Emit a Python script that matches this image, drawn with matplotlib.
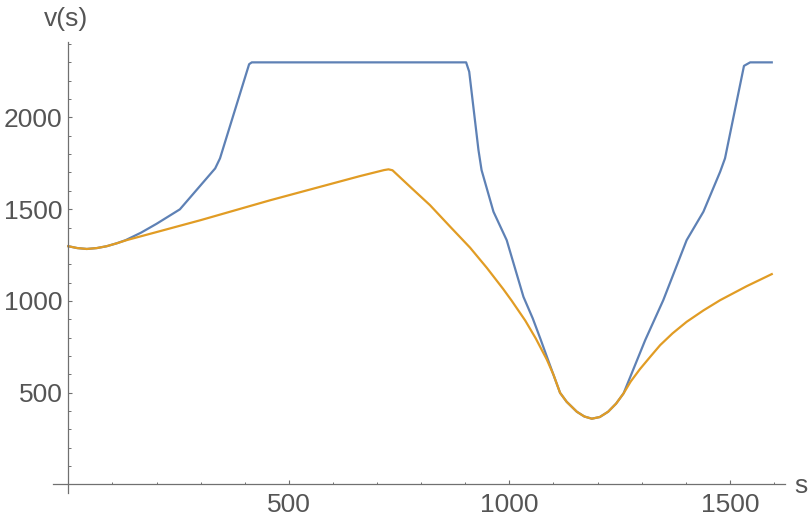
import matplotlib
matplotlib.use("Agg")
import matplotlib.pyplot as plt

# Blue series (upper envelope)
blue_s = [0, 20, 42, 65, 87, 110, 130, 165, 200, 253, 333, 344, 410, 416, 902, 909, 930, 937,
          964, 994, 1032, 1053, 1070, 1092, 1115, 1130, 1153, 1170, 1187, 1205, 1224, 1242,
          1259, 1308, 1349, 1402, 1440, 1478, 1489, 1532, 1546, 1595]
blue_v = [1298, 1288, 1283, 1288, 1298, 1314, 1331, 1372, 1420, 1499, 1722, 1777, 2290, 2300,
          2300, 2249, 1822, 1713, 1486, 1331, 1022, 905, 796, 650, 499, 450, 396, 370, 358,
          367, 396, 440, 496, 786, 1004, 1331, 1486, 1704, 1777, 2281, 2300, 2300]

# Orange series
orange_s = [0, 20, 42, 65, 87, 110, 132, 200, 300, 457, 661, 716, 726, 735, 775, 820, 866, 911,
            949, 986, 1005, 1036, 1060, 1085, 1100, 1115, 1130, 1153, 1170, 1187, 1205, 1224,
            1242, 1259, 1275, 1296, 1320, 1342, 1370, 1402, 1440, 1478, 1538, 1595]
orange_v = [1298, 1288, 1283, 1288, 1298, 1314, 1331, 1375, 1440, 1548, 1680, 1713, 1717, 1712,
            1622, 1522, 1404, 1290, 1180, 1065, 1002, 893, 795, 680, 598, 499, 450, 396, 370,
            358, 367, 396, 440, 496, 560, 628, 697, 759, 823, 886, 948, 1004, 1080, 1146]

x_major = [500, 1000, 1500]
y_major = [500, 1000, 1500, 2000]

gray = "#555555"
axc = "#707070"

fig = plt.figure(figsize=(8.11, 5.21), dpi=100)
ax = fig.add_axes([53.3 / 811, 28 / 521, 731.7 / 811, 451 / 521])
ax.plot(blue_s, blue_v, color="#5E81B5", lw=1.6, solid_joinstyle="round")
ax.plot(orange_s, orange_v, color="#E19C24", lw=1.6, solid_joinstyle="round")

ax.set_xlim(-34, 1625)
ax.set_ylim(-47, 2411)

for side in ["top", "right"]:
    ax.spines[side].set_visible(False)
ax.spines["left"].set_position(("data", 0))
ax.spines["bottom"].set_position(("data", 0))
for side in ["left", "bottom"]:
    ax.spines[side].set_color(axc)
    ax.spines[side].set_linewidth(0.9)

ax.set_xticks(x_major)
ax.set_yticks(y_major)
ax.set_xticks([v for v in range(100, 1700, 100) if v not in x_major], minor=True)
ax.set_yticks([v for v in range(100, 2500, 100) if v not in y_major], minor=True)
ax.set_xticklabels([str(v) for v in x_major])
ax.set_yticklabels([str(v) for v in y_major])

ax.tick_params(which="major", direction="in", length=3.0, width=0.8, color=axc,
               labelsize=19, labelcolor=gray)
ax.tick_params(which="minor", direction="in", length=1.8, width=0.7, color=axc)
ax.tick_params(axis="x", which="major", pad=6)
ax.tick_params(axis="y", which="major", pad=4)
for lab in ax.get_xticklabels() + ax.get_yticklabels():
    lab.set_fontfamily("Liberation Sans")

fig.text(66 / 811, 1 - 26 / 521, "v(s)", ha="center", va="baseline", fontsize=19,
         color=gray, family="Liberation Sans")
fig.text(794 / 811, 1 - 493 / 521, "s", ha="left", va="baseline", fontsize=19,
         color=gray, family="Liberation Sans")

fig.savefig("out.png", dpi=100)
